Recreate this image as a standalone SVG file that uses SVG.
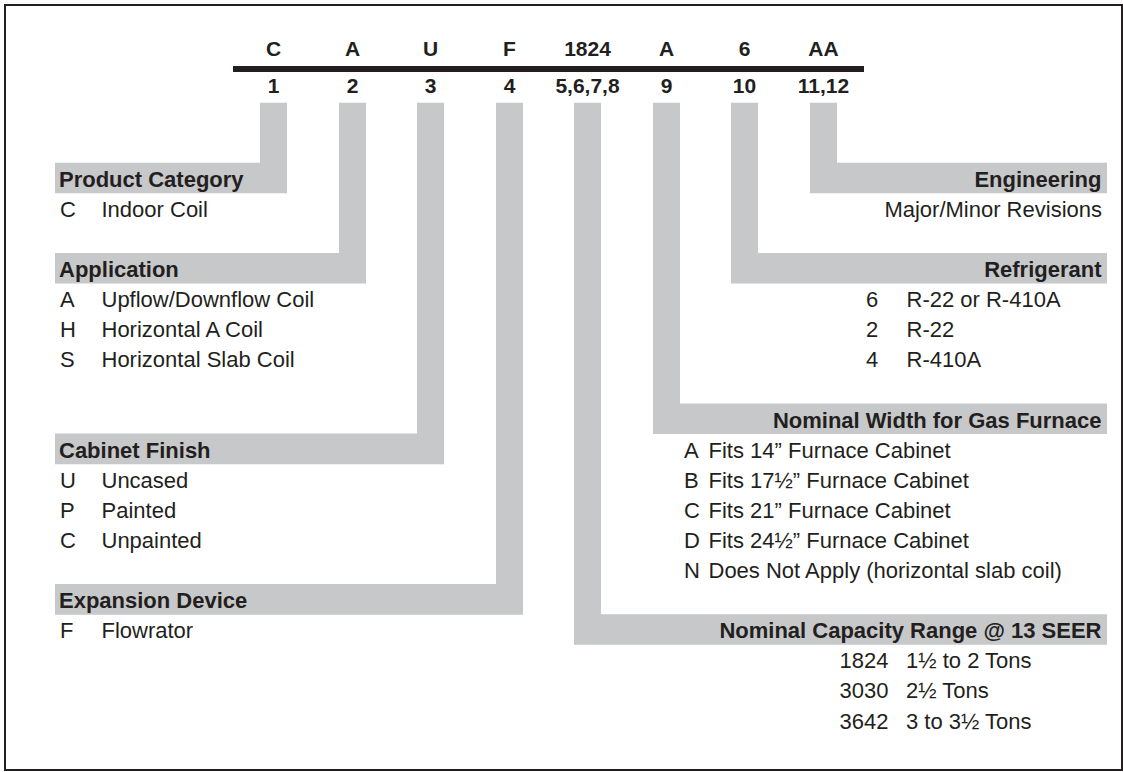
<svg xmlns="http://www.w3.org/2000/svg" width="1123" height="772" viewBox="0 0 1123 772">
<style>
.t{font-family:"Liberation Sans",Arial,Helvetica,sans-serif;fill:#231f20;font-size:22px}
.b{font-weight:bold}
.e{text-anchor:end}
.h{font-family:"Liberation Sans",Arial,Helvetica,sans-serif;fill:#231f20;font-size:21px;font-weight:bold;text-anchor:middle}
.g{fill:#c7c8ca}
</style>
<rect width="1123" height="772" fill="#ffffff"/>
<rect x="5" y="5" width="1117" height="765" fill="none" stroke="#231f20" stroke-width="2"/>

<g id="model-code">
  <rect x="233" y="66" width="631" height="6" fill="#231f20"/>
  <text class="h" x="273.5" y="56">C</text>
  <text class="h" x="352.5" y="56">A</text>
  <text class="h" x="430.5" y="56">U</text>
  <text class="h" x="509.5" y="56">F</text>
  <text class="h" x="587.5" y="56">1824</text>
  <text class="h" x="666.5" y="56">A</text>
  <text class="h" x="744.5" y="56">6</text>
  <text class="h" x="823.5" y="56">AA</text>
  <text class="h" x="273.5" y="93.3">1</text>
  <text class="h" x="352.5" y="93.3">2</text>
  <text class="h" x="430.5" y="93.3">3</text>
  <text class="h" x="509.5" y="93.3">4</text>
  <text class="h" x="587.5" y="93.3">5,6,7,8</text>
  <text class="h" x="666.5" y="93.3">9</text>
  <text class="h" x="744.5" y="93.3">10</text>
  <text class="h" x="823.5" y="93.3">11,12</text>
</g>

<g id="connectors" class="g">
  <path d="M260,102.7 H287 V193.3 H55 V162.7 H260 Z"/>
  <path d="M339,102.7 H366 V283.6 H55 V253 H339 Z"/>
  <path d="M417,102.7 H444 V464.2 H55 V433.6 H417 Z"/>
  <path d="M496,102.7 H523 V614.7 H55 V584.1 H496 Z"/>
  <path d="M574,102.7 H601 V614.2 H1107 V644.8 H574 Z"/>
  <path d="M653,102.7 H680 V403.5 H1107 V434.1 H653 Z"/>
  <path d="M731,102.7 H758 V253 H1107 V283.6 H731 Z"/>
  <path d="M810,102.7 H837 V162.7 H1107 V193.3 H810 Z"/>
</g>

<g id="product-category" class="t">
  <text class="b" x="59" y="186.7">Product Category</text>
  <text x="60" y="216.8">C</text><text x="101.5" y="216.8">Indoor Coil</text>
</g>

<g id="application" class="t">
  <text class="b" x="59" y="277">Application</text>
  <text x="60" y="307.1">A</text><text x="101.5" y="307.1">Upflow/Downflow Coil</text>
  <text x="60" y="337.2">H</text><text x="101.5" y="337.2">Horizontal A Coil</text>
  <text x="60" y="367.3">S</text><text x="101.5" y="367.3">Horizontal Slab Coil</text>
</g>

<g id="cabinet-finish" class="t">
  <text class="b" x="59" y="457.6">Cabinet Finish</text>
  <text x="60" y="487.7">U</text><text x="101.5" y="487.7">Uncased</text>
  <text x="60" y="517.8">P</text><text x="101.5" y="517.8">Painted</text>
  <text x="60" y="547.9">C</text><text x="101.5" y="547.9">Unpainted</text>
</g>

<g id="expansion-device" class="t">
  <text class="b" x="59" y="608.1">Expansion Device</text>
  <text x="60" y="638.2">F</text><text x="101.5" y="638.2">Flowrator</text>
</g>

<g id="engineering" class="t">
  <text class="b e" x="1101.5" y="186.7">Engineering</text>
  <text class="e" x="1102" y="216.8">Major/Minor Revisions</text>
</g>

<g id="refrigerant" class="t">
  <text class="b e" x="1101.5" y="277">Refrigerant</text>
  <text x="866" y="307.1">6</text><text x="906.5" y="307.1">R-22 or R-410A</text>
  <text x="866" y="337.2">2</text><text x="906.5" y="337.2">R-22</text>
  <text x="866" y="367.3">4</text><text x="906.5" y="367.3">R-410A</text>
</g>

<g id="nominal-width" class="t">
  <text class="b e" x="1101.5" y="427.5">Nominal Width for Gas Furnace</text>
  <text x="684" y="457.6">A</text><text x="708.5" y="457.6">Fits 14” Furnace Cabinet</text>
  <text x="684" y="487.7">B</text><text x="708.5" y="487.7">Fits 17½” Furnace Cabinet</text>
  <text x="684" y="517.8">C</text><text x="708.5" y="517.8">Fits 21” Furnace Cabinet</text>
  <text x="684" y="547.9">D</text><text x="708.5" y="547.9">Fits 24½” Furnace Cabinet</text>
  <text x="684" y="578">N</text><text x="708.5" y="578">Does Not Apply (horizontal slab coil)</text>
</g>

<g id="nominal-capacity" class="t">
  <text class="b e" x="1101.5" y="638.2">Nominal Capacity Range @ 13 SEER</text>
  <text x="839.5" y="668.3">1824</text><text x="906" y="668.3">1½ to 2 Tons</text>
  <text x="839.5" y="698.4">3030</text><text x="906" y="698.4">2½ Tons</text>
  <text x="839.5" y="728.5">3642</text><text x="906" y="728.5">3 to 3½ Tons</text>
</g>
</svg>
